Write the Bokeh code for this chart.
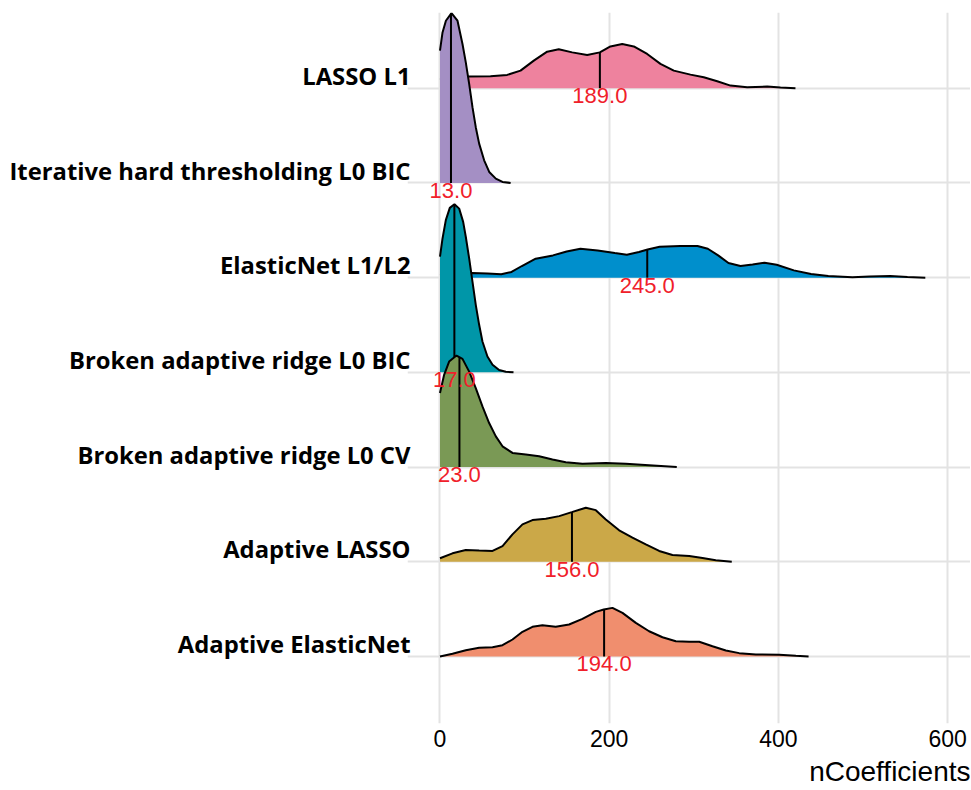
import numpy as np
from bokeh.plotting import figure
from bokeh.models import Range1d, FixedTicker, CustomJSTickFormatter, Title
from bokeh.core.properties import value
from bokeh.embed import file_html
from bokeh.resources import INLINE

# ---- data ----
categories = ["Adaptive ElasticNet", "Adaptive LASSO", "Broken adaptive ridge L0 CV",
              "Broken adaptive ridge L0 BIC", "ElasticNet L1/L2",
              "Iterative hard thresholding L0 BIC", "LASSO L1"]
medians = [194.0, 156.0, 23.0, 17.0, 245.0, 13.0, 189.0]
colors = ["#F08E6E", "#CBA848", "#7A9955", "#0096A8", "#008FCC", "#A48FC4", "#EE829E"]
x_ticks = [0, 200, 400, 600]

# density curves: x (nCoefficients) and scaled density height
ae_x = [0, 14.8, 30.5, 46.3, 62.1, 73.9, 85.7, 97.5, 109.3, 121.1, 136.8, 152.6, 168.4, 184.2,
        193.6, 203.9, 215.7, 231.5, 247.2, 263, 278.8, 294.6, 306.4, 322.1, 337.9, 353.7,
        373.4, 401, 420.7, 435.7]
ae_h = [0, 0.028, 0.066, 0.092, 0.098, 0.119, 0.179, 0.26, 0.313, 0.329, 0.313, 0.337, 0.397,
        0.471, 0.495, 0.513, 0.46, 0.355, 0.266, 0.203, 0.161, 0.155, 0.155, 0.108, 0.063,
        0.035, 0.021, 0.018, 0.007, 0]

al_x = [0, 14.8, 30.5, 46.3, 62.1, 73.9, 85.7, 97.5, 109.3, 125.1, 140.9, 155.8, 172.4, 184.2,
        196, 211.8, 227.5, 243.3, 259.1, 274.8, 294.6, 310.3, 326, 344.9]
al_h = [0.037, 0.089, 0.124, 0.118, 0.114, 0.166, 0.289, 0.395, 0.44, 0.455, 0.482, 0.524,
        0.571, 0.545, 0.447, 0.332, 0.255, 0.184, 0.114, 0.072, 0.061, 0.04, 0.016, 0]

cv_x = [0, 4.9, 10.8, 19.5, 26.6, 34.5, 42.3, 50.2, 58.1, 66, 73.9, 85.7, 101.5, 117.2, 133,
        148.7, 168.4, 196, 219.6, 247.2, 279.9]
cv_h = [0.781, 0.974, 1.114, 1.177, 1.142, 1.008, 0.834, 0.64, 0.465, 0.324, 0.219, 0.149,
        0.132, 0.114, 0.079, 0.051, 0.034, 0.044, 0.034, 0.019, 0]

bic_x = [0, 3, 6.9, 11.6, 17.1, 22.7, 27.4, 30.5, 34.5, 38.4, 42.3, 46.3, 50.2, 56.1, 62.1,
         69.9, 77.8, 86.9]
bic_h = [1.221, 1.414, 1.607, 1.737, 1.776, 1.729, 1.589, 1.432, 1.203, 0.958, 0.713, 0.502,
         0.326, 0.168, 0.081, 0.024, 0.007, 0]

en_x = [0, 20, 37.8, 56.2, 72.4, 84.6, 96.8, 113.1, 133.5, 149.7, 166, 186.4, 206.7, 220.9,
        235.2, 245.4, 259.6, 284, 304.4, 316.6, 328.8, 341, 355.2, 369.5, 383.7, 398, 418.3,
        438.6, 459, 487.5, 507.8, 532.2, 552.6, 573.7]
en_h = [0.03, 0.045, 0.049, 0.045, 0.035, 0.06, 0.123, 0.2, 0.235, 0.277, 0.305, 0.287, 0.26,
        0.242, 0.271, 0.298, 0.326, 0.334, 0.334, 0.305, 0.235, 0.155, 0.123, 0.14, 0.158,
        0.137, 0.077, 0.039, 0.018, 0.003, 0.011, 0.018, 0.007, 0]

iht_x = [0, 3, 7, 13.6, 20.7, 26.6, 30.5, 34.5, 38.4, 42.3, 46.3, 52.2, 58.2, 66, 73.9, 83.5]
iht_h = [1.397, 1.589, 1.713, 1.794, 1.713, 1.467, 1.274, 1.046, 0.8, 0.589, 0.415, 0.239,
         0.116, 0.046, 0.011, 0]

l1_x = [0, 15, 34, 59.7, 79.4, 95.2, 110.9, 126.7, 140.4, 156.3, 174, 188.9, 201.5, 215.4,
        229.1, 244.9, 260.6, 276.4, 296.1, 311.8, 327.7, 343.4, 363.1, 386.8, 402.5, 420.2]
l1_h = [0.09, 0.115, 0.123, 0.126, 0.141, 0.186, 0.292, 0.386, 0.411, 0.379, 0.352, 0.379,
        0.442, 0.467, 0.442, 0.362, 0.257, 0.186, 0.144, 0.116, 0.074, 0.028, 0.011, 0.018,
        0.007, 0]

curves_x = [ae_x, al_x, cv_x, bic_x, en_x, iht_x, l1_x]
curves_h = [ae_h, al_h, cv_h, bic_h, en_h, iht_h, l1_h]

# ---- figure ----
p = figure(width=970, height=790, x_range=Range1d(-38.4, 627.1), y_range=Range1d(0.292, 7.80),
           output_backend="svg", toolbar_location=None,
           min_border_top=12, min_border_right=0, min_border_bottom=65, min_border_left=407)
p.outline_line_color = None
p.background_fill_color = "white"
p.border_fill_color = "white"

# grids
p.xgrid.ticker = FixedTicker(ticks=x_ticks)
p.ygrid.ticker = FixedTicker(ticks=list(range(1, len(categories) + 1)))
for g in (p.xgrid, p.ygrid):
    g.grid_line_color = "#E3E3E3"
    g.grid_line_width = 2

# x axis
p.xaxis.ticker = FixedTicker(ticks=x_ticks)
p.xaxis.axis_line_color = None
p.xaxis.major_tick_line_color = None
p.xaxis.minor_tick_line_color = None
p.xaxis.major_tick_out = 0
p.xaxis.major_tick_in = 0
p.xaxis.major_label_standoff = 6
p.xaxis.major_label_text_font = "Liberation Sans"
p.xaxis.major_label_text_font_size = "23px"
p.xaxis.major_label_text_color = "black"

# y axis (labels sit slightly above each ridge baseline)
p.yaxis.ticker = FixedTicker(ticks=[i + 1 + 0.13 for i in range(len(categories))])
p.yaxis.formatter = CustomJSTickFormatter(args=dict(names=categories),
                                          code="return names[Math.round(tick) - 1];")
p.yaxis.axis_line_color = None
p.yaxis.major_tick_line_color = None
p.yaxis.minor_tick_line_color = None
p.yaxis.major_tick_out = 0
p.yaxis.major_tick_in = 0
p.yaxis.major_label_standoff = -3
p.yaxis.major_label_text_font = "Open Sans"
p.yaxis.major_label_text_font_style = "bold"
p.yaxis.major_label_text_font_size = "23.8px"
p.yaxis.major_label_text_color = "black"

# ridges, drawn from top to bottom so lower ridges overlap upper ones
for i in reversed(range(len(categories))):
    base = i + 1
    xs = np.array(curves_x[i], dtype=float)
    hs = np.array(curves_h[i], dtype=float)
    top = base + hs
    px = list(xs) + [xs[-1], xs[0]]
    py = list(top) + [base, base]
    p.patch(px, py, fill_color=colors[i], line_color=None)
    p.line(xs, top, line_color="black", line_width=2)
    mh = float(np.interp(medians[i], xs, hs))
    p.segment(x0=[medians[i]], y0=[base], x1=[medians[i]], y1=[base + mh],
              line_color="black", line_width=2)

# median labels
p.text(x=medians, y=[i + 1 for i in range(len(categories))],
       text=[f"{m:.1f}" for m in medians],
       text_align="center", text_baseline="top", y_offset=0,
       text_font=value("Liberation Sans"), text_font_size="22px", text_color="#F0202A")

# x axis title, right-aligned
p.add_layout(Title(text="nCoefficients", align="right", text_font="Liberation Sans",
                   text_font_size="28px", text_font_style="normal", text_color="black",
                   standoff=8, offset=0), "below")

open("out.html", "w").write(file_html(p, INLINE))
